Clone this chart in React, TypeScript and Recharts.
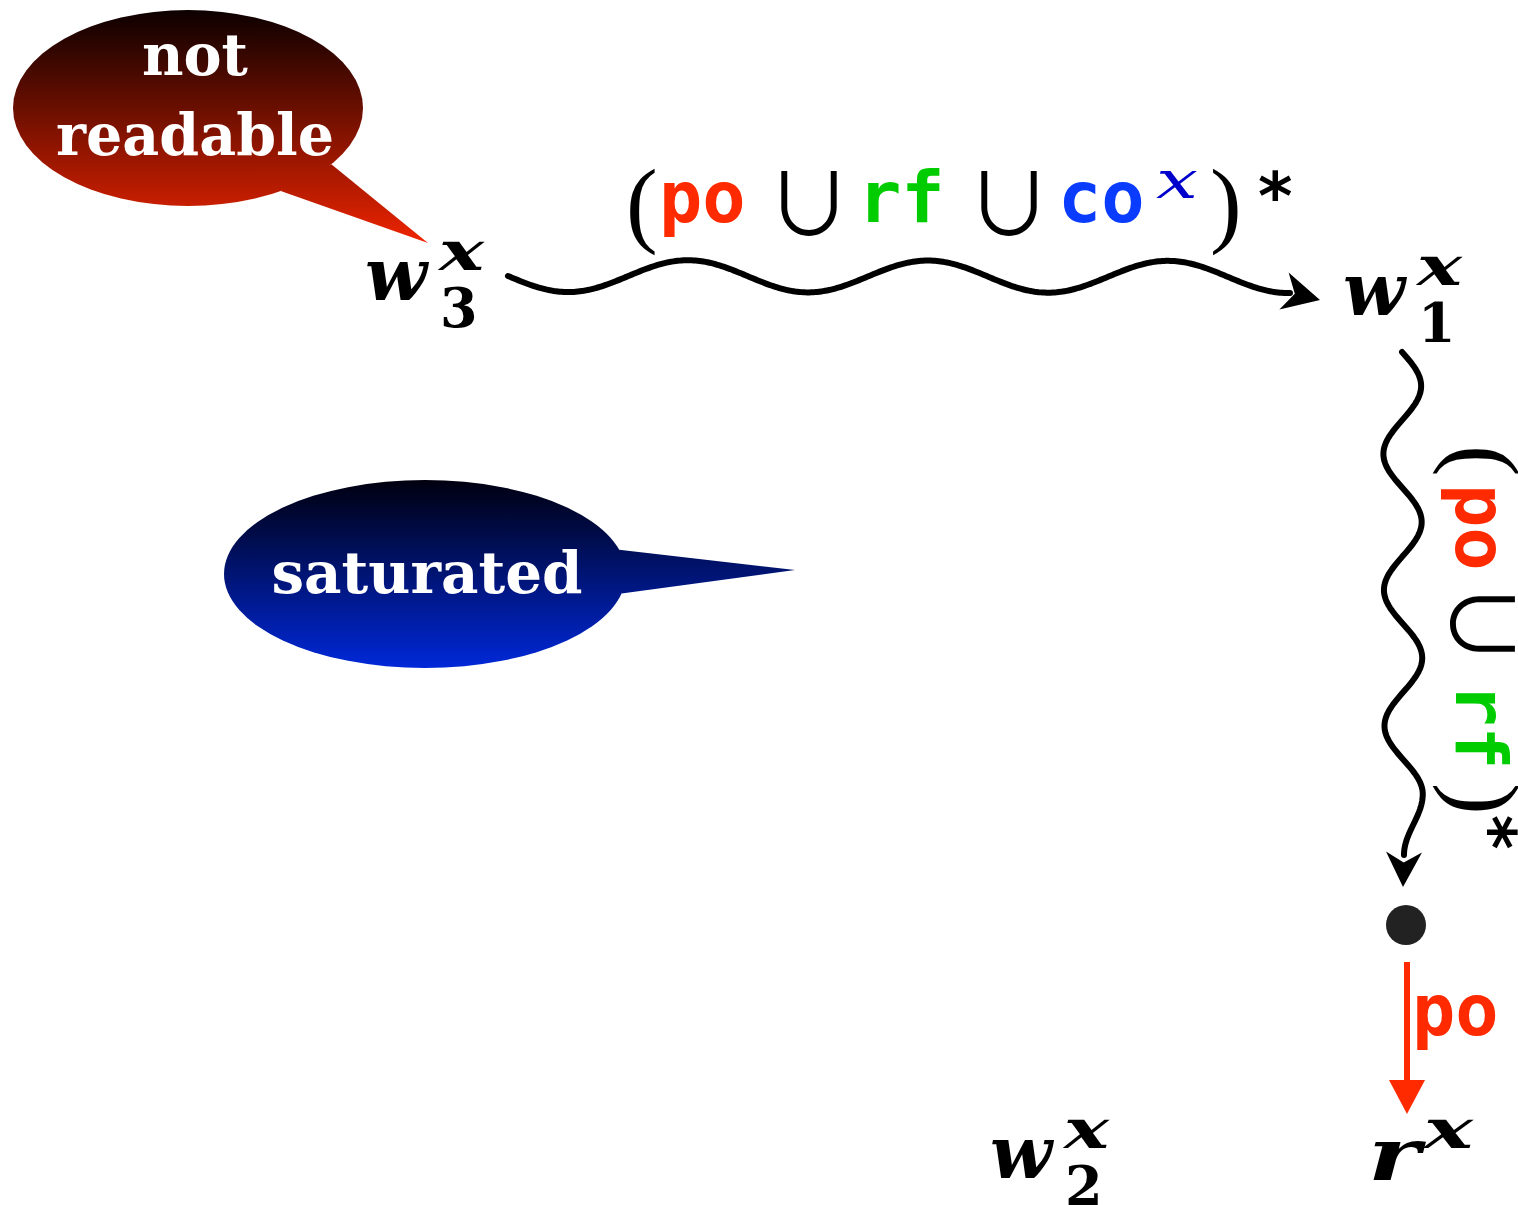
import React from 'react';
import { ScatterChart, Scatter, XAxis, YAxis, ReferenceLine } from 'recharts';

const W = 1518;
const H = 1205;

// ---------- data ----------
const nodeIds = ['w3', 'w1', 'w2', 'r'];
const nodeBase = ['w', 'w', 'w', 'r'];
const nodeSup = ['x', 'x', 'x', 'x'];
const nodeSub = ['3', '1', '2', ''];
const nodeX = [365, 1343, 990, 1368];
const nodeY = [300, 315, 1178, 1180];

const dotX = [1406];
const dotY = [925];

const bubbleIds = ['red', 'blue'];
const bubbleLines = [['not', 'readable'], ['saturated']];
const bubbleCX = [188, 425];
const bubbleCY = [108, 574];
const bubbleTipX = [428, 795];
const bubbleTipY = [243, 570];

const waveIds = ['w3-w1', 'w1-dot'];
const waveX1 = [508, 1402];
const waveY1 = [276, 352];
const waveX2 = [1290, 1404];
const waveY2 = [277, 855];

const headIds = ['h1', 'h2', 'h3'];
const headX1 = [1284, 1404, 1407];
const headY1 = [291, 852, 1080];
const headX2 = [1320, 1403, 1407];
const headY2 = [300, 887, 1114];

const poLineX = [1407, 1407];
const poLineY = [962, 1084];

const hLabelParts = ['(', 'po', '∪', 'rf', '∪', 'co', 'x', ')', '*'];
const vLabelParts = ['(', 'po', '∪', 'rf', ')', '*'];
const labelIds = ['h', 'v', 'po'];
const labelX = [630, 1456, 1412];
const labelY = [222, 448, 1035];

// ---------- styles ----------
const RED = '#ff2a00';
const GREEN = '#00cc00';
const BLUE = '#0a3cff';
const NAVY = '#0000cc';
const MONO = '"DejaVu Sans Mono", monospace';
const SERIF = '"DejaVu Serif", serif';
const TIMES = '"Liberation Serif", serif';
const SANS = '"DejaVu Sans", sans-serif';
const CUP = '"Noto Sans CJK JP", "DejaVu Sans", sans-serif';

const partColor: Record<string, string> = { po: RED, rf: GREEN, co: BLUE, x: NAVY };

const hOffsets = [-4, 29, 136, 228, 336, 428, 526, 580, 628];
const vOffsets = [-3, 36, 133, 235, 335, 367];

const bubbleStyle: Record<string, any> = {
  red: { rx: 175, ry: 98, a1: 35, a2: 58, top: '#0c0000', mid: '#c81e00', bot: '#f02400', textDx: 7, lineDy: [-33, 47], size: 57, widths: [106, 278] },
  blue: { rx: 201, ry: 94, a1: -15, a2: 12, top: '#00000f', mid: '#0028d8', bot: '#0030ff', textDx: 2, lineDy: [19], size: 58, widths: [311] },
};

const waveStyle: Record<string, any> = {
  'w3-w1': { lambda: 240, amp: 16, sign: 1, taper: 0 },
  'w1-dot': { lambda: 136, amp: 19, sign: -1, taper: 61 },
};

const headStyle: Record<string, any> = {
  h1: { w: 38, notch: 0.3, color: '#000' },
  h2: { w: 36, notch: 0.3, color: '#000' },
  h3: { w: 36, notch: 0, color: RED },
};

// ---------- builders ----------
const nodeData = nodeIds.map((id, i) => ({ id, base: nodeBase[i], sup: nodeSup[i], sub: nodeSub[i], x: nodeX[i], y: nodeY[i] }));
const dotData = dotX.map((x, i) => ({ x, y: dotY[i] }));
const labelData = labelIds.map((id, i) => ({ id, x: labelX[i], y: labelY[i] }));

function wavePath(x1: number, y1: number, x2: number, y2: number, st: any) {
  const dx = x2 - x1, dy = y2 - y1;
  const L = Math.hypot(dx, dy);
  const ux = dx / L, uy = dy / L;
  const nx = -uy, ny = ux;
  const N = Math.ceil(L / 2);
  const waveOff = (s: number) => st.sign * st.amp * Math.sin((2 * Math.PI * s) / st.lambda);
  const sT = L - st.taper;
  const offT = waveOff(sT);
  let d = '';
  for (let i = 0; i <= N; i++) {
    const s = (L * i) / N;
    let off = waveOff(s);
    if (st.taper > 0 && s > sT) {
      const t = (s - sT) / st.taper;
      off = (offT * (1 + Math.cos(Math.PI * t))) / 2;
    }
    const px = x1 + ux * s + nx * off;
    const py = y1 + uy * s + ny * off;
    d += (i === 0 ? 'M' : 'L') + px.toFixed(2) + ',' + py.toFixed(2) + ' ';
  }
  return d;
}

function headPath(x1: number, y1: number, x2: number, y2: number, w: number, notch: number) {
  const dx = x2 - x1, dy = y2 - y1;
  const L = Math.hypot(dx, dy);
  const ux = dx / L, uy = dy / L;
  const nx = -uy, ny = ux;
  const bx = x2 - ux * L, by = y2 - uy * L;
  const lx = bx + (nx * w) / 2, ly = by + (ny * w) / 2;
  const rx = bx - (nx * w) / 2, ry = by - (ny * w) / 2;
  const mx = x2 - ux * L * (1 - notch), my = y2 - uy * L * (1 - notch);
  return `M${x2},${y2} L${lx},${ly} L${mx},${my} L${rx},${ry} Z`;
}

function BubbleGraphic(p: any, idx: number) {
  const id = bubbleIds[idx];
  const st = bubbleStyle[id];
  const cx = p.x1, cy = p.y1, tx = p.x2, ty = p.y2;
  const a1 = (st.a1 * Math.PI) / 180, a2 = (st.a2 * Math.PI) / 180;
  const p1x = cx + st.rx * Math.cos(a1), p1y = cy + st.ry * Math.sin(a1);
  const p2x = cx + st.rx * Math.cos(a2), p2y = cy + st.ry * Math.sin(a2);
  const gid = 'grad-' + id;
  const yTop = cy - st.ry;
  const yBot = Math.max(cy + st.ry, ty);
  const midOff = (cy + st.ry - yTop) / (yBot - yTop);
  return (
    <g>
      <defs>
        <linearGradient id={gid} gradientUnits="userSpaceOnUse" x1={0} y1={yTop} x2={0} y2={yBot}>
          <stop offset="0" stopColor={st.top} />
          <stop offset={midOff} stopColor={st.mid} />
          <stop offset="1" stopColor={st.bot} />
        </linearGradient>
      </defs>
      <path d={`M${p1x},${p1y} L${tx},${ty} L${p2x},${p2y} Z`} fill={`url(#${gid})`} />
      <ellipse cx={cx} cy={cy} rx={st.rx} ry={st.ry} fill={`url(#${gid})`} />
      {bubbleLines[idx].map((line, j) => (
        <text
          key={j}
          x={cx + st.textDx}
          y={cy + st.lineDy[j]}
          textAnchor="middle"
          fill="#fff"
          fontFamily={SERIF}
          fontWeight="bold"
          fontSize={st.size}
          textLength={st.widths[j]}
          lengthAdjust="spacingAndGlyphs"
        >
          {line}
        </text>
      ))}
    </g>
  );
}

function NodeShape(props: any) {
  const { cx, cy, payload } = props;
  const isW = payload.base === 'w';
  return (
    <g>
      <text
        x={cx}
        y={cy}
        fontFamily={SERIF}
        fontStyle="italic"
        fontWeight="bold"
        fontSize={72}
        fill="#000"
        textLength={isW ? undefined : 52}
        lengthAdjust="spacingAndGlyphs"
      >
        {payload.base}
      </text>
      <text
        x={cx + (isW ? 74 : 56)}
        y={cy - (isW ? 30 : 32)}
        fontFamily={SERIF}
        fontStyle="italic"
        fontWeight="bold"
        fontSize={54}
        fill="#000"
        textLength={isW ? 45 : 49}
        lengthAdjust="spacingAndGlyphs"
      >
        {payload.sup}
      </text>
      {payload.sub ? (
        <text x={cx + 75} y={cy + 27} fontFamily={SERIF} fontWeight="bold" fontSize={54} fill="#000">
          {payload.sub}
        </text>
      ) : null}
    </g>
  );
}

function DotShape(props: any) {
  return <circle cx={props.cx} cy={props.cy} r={20} fill="#222" />;
}

function renderPart(part: string, u: number, kind: string, key: number) {
  const vert = kind === 'v';
  if (part === '(' || part === ')') {
    return (
      <text key={key} x={u} y={vert ? 3 : 13} fontFamily={TIMES} fontSize={95} fill="#000">
        {part}
      </text>
    );
  }
  if (part === '∪') {
    return (
      <text key={key} x={u} y={vert ? 6 : 14} fontFamily={CUP} fontSize={86} fill="#000">
        {part}
      </text>
    );
  }
  if (part === 'x') {
    return (
      <text key={key} x={u} y={-24} fontFamily={SERIF} fontStyle="italic" fontSize={52} fill={NAVY} textLength={42} lengthAdjust="spacingAndGlyphs">
        {part}
      </text>
    );
  }
  if (part === '*') {
    return (
      <text key={key} x={u} y={vert ? -13 : -3} fontFamily={SANS} fontWeight="bold" fontSize={66} fill="#000">
        {part}
      </text>
    );
  }
  return (
    <text key={key} x={u} y={0} fontFamily={MONO} fontWeight="bold" fontSize={72} fill={partColor[part]}>
      {part}
    </text>
  );
}

function LabelShape(props: any) {
  const { cx, cy, payload } = props;
  if (payload.id === 'h') {
    return <g transform={`translate(${cx},${cy})`}>{hLabelParts.map((p, i) => renderPart(p, hOffsets[i], 'h', i))}</g>;
  }
  if (payload.id === 'v') {
    return <g transform={`translate(${cx},0) rotate(90) translate(${cy},0)`}>{vLabelParts.map((p, i) => renderPart(p, vOffsets[i], 'v', i))}</g>;
  }
  return <g transform={`translate(${cx},${cy})`}>{renderPart('po', 0, 'h', 0)}</g>;
}

export default function App() {
  return (
    <div style={{ position: 'absolute', left: 0, top: 0, width: W, height: H, background: '#fff' }}>
      <ScatterChart width={W} height={H} margin={{ top: 0, right: 0, bottom: 0, left: 0 }}>
        <XAxis type="number" dataKey="x" domain={[0, W]} hide allowDataOverflow />
        <YAxis type="number" dataKey="y" domain={[0, H]} reversed hide allowDataOverflow />
        {bubbleIds.map((id, i) => (
          <ReferenceLine
            key={id}
            ifOverflow="visible"
            segment={[{ x: bubbleCX[i], y: bubbleCY[i] }, { x: bubbleTipX[i], y: bubbleTipY[i] }]}
            shape={(p: any) => BubbleGraphic(p, i)}
          />
        ))}
        {waveIds.map((id, i) => (
          <ReferenceLine
            key={id}
            ifOverflow="visible"
            segment={[{ x: waveX1[i], y: waveY1[i] }, { x: waveX2[i], y: waveY2[i] }]}
            shape={(p: any) => (
              <path d={wavePath(p.x1, p.y1, p.x2, p.y2, waveStyle[id])} fill="none" stroke="#000" strokeWidth={6} strokeLinecap="round" strokeLinejoin="round" />
            )}
          />
        ))}
        <ReferenceLine
          ifOverflow="visible"
          segment={[{ x: poLineX[0], y: poLineY[0] }, { x: poLineX[1], y: poLineY[1] }]}
          stroke={RED}
          strokeWidth={6}
        />
        {headIds.map((id, i) => (
          <ReferenceLine
            key={id}
            ifOverflow="visible"
            segment={[{ x: headX1[i], y: headY1[i] }, { x: headX2[i], y: headY2[i] }]}
            shape={(p: any) => (
              <path d={headPath(p.x1, p.y1, p.x2, p.y2, headStyle[id].w, headStyle[id].notch)} fill={headStyle[id].color} stroke="none" />
            )}
          />
        ))}
        <Scatter data={dotData} shape={DotShape} isAnimationActive={false} />
        <Scatter data={nodeData} shape={NodeShape} isAnimationActive={false} />
        <Scatter data={labelData} shape={LabelShape} isAnimationActive={false} />
      </ScatterChart>
    </div>
  );
}
